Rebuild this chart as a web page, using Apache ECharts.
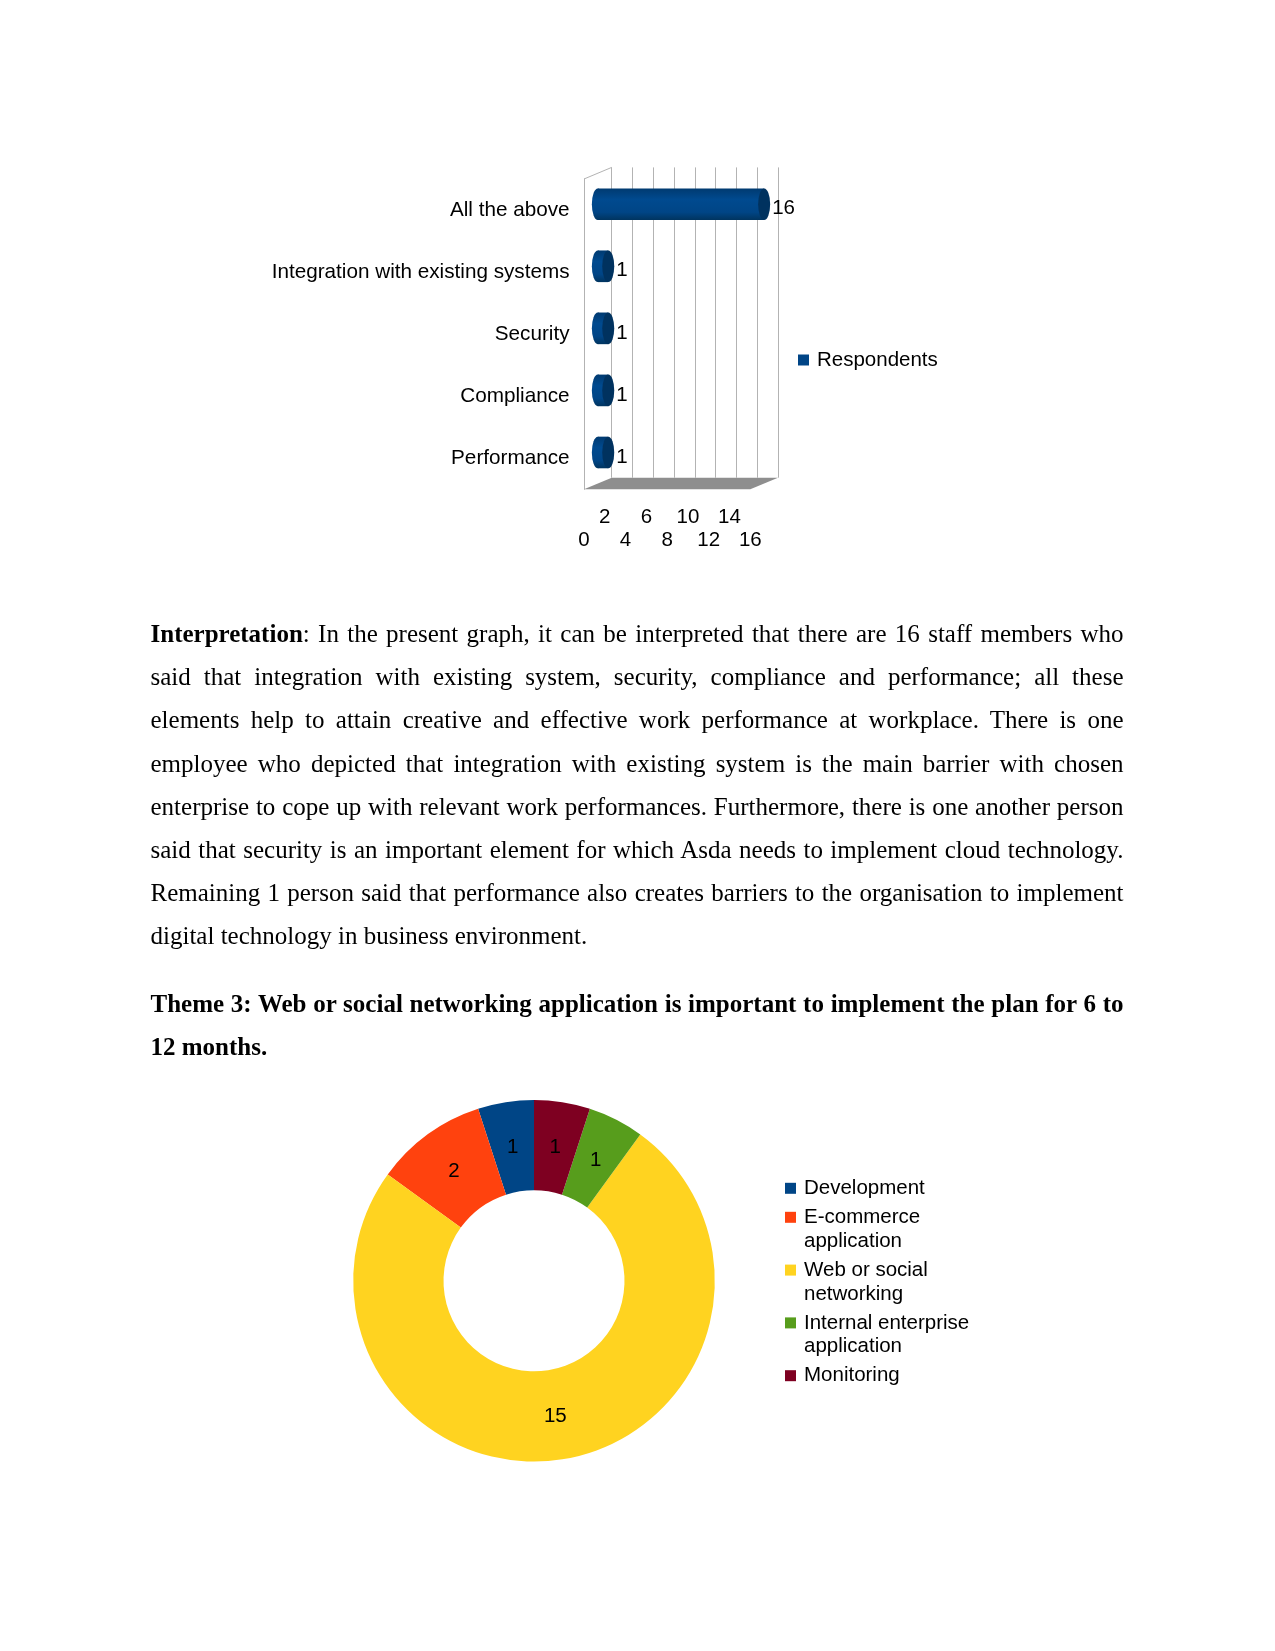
<!DOCTYPE html>
<html>
<head>
<meta charset="utf-8">
<script src="https://cdn.jsdelivr.net/npm/echarts@6/dist/echarts.min.js"></script>
<style>
  html, body { margin: 0; padding: 0; background: #ffffff; }
  #page { position: relative; width: 1275px; height: 1651px; overflow: hidden; background: #fff; }
  #chart { position: absolute; left: 0; top: 0; width: 1275px; height: 1651px; }
  .para { position: absolute; left: 150.5px; width: 973px; font-family: "Liberation Serif", "Times New Roman", serif; font-size: 25px; color: #000; z-index: 2; }
  .para div { height: 43.1px; line-height: 43.1px; text-align: justify; text-align-last: justify; }
  .para div.last { text-align: left; text-align-last: left; }
  b { font-weight: bold; }
</style>
</head>
<body>
<div id="page">
  <div id="chart"></div>
  <div class="para" style="top:612.3px">
    <div><b>Interpretation</b>: In the present graph, it can be interpreted that there are 16 staff members who</div>
    <div>said that integration with existing system, security, compliance and performance; all these</div>
    <div>elements help to attain creative and effective work performance at workplace. There is one</div>
    <div>employee who depicted that integration with existing system is the main barrier with chosen</div>
    <div>enterprise to cope up with relevant work performances. Furthermore, there is one another person</div>
    <div>said that security is an important element for which Asda needs to implement cloud technology.</div>
    <div>Remaining 1 person said that performance also creates barriers to the organisation to implement</div>
    <div class="last">digital technology in business environment.</div>
  </div>
  <div class="para" style="top:981.7px; font-weight:bold">
    <div>Theme 3: Web or social networking application is important to implement the plan for 6 to</div>
    <div class="last">12 months.</div>
  </div>
</div>
<script>
// ---------- data ----------
const categories = ['All the above', 'Integration with existing systems', 'Security', 'Compliance', 'Performance'];
const respondents = [16, 1, 1, 1, 1];
const barSeriesName = 'Respondents';
const xAxisMin = 0;
const xAxisMax = 16;
const xAxisStep = 2;

const appNames = ['Development', 'E-commerce application', 'Web or social networking', 'Internal enterprise application', 'Monitoring'];
const appCounts = [1, 2, 15, 1, 1];
const appLegendLabels = ['Development', 'E-commerce\napplication', 'Web or social\nnetworking', 'Internal enterprise\napplication', 'Monitoring'];

// ---------- styles / layout ----------
const appColors = ['#004586', '#ff420e', '#ffd320', '#579d1c', '#7e0021'];
const FONT = 'Liberation Sans';
const FS = 20.5;
const DEPTH_DX = 27.7, DEPTH_DY = -11.6;
const FRONT = { left: 584, top: 179, width: 166.3, height: 310.3 };
const LEG_LINE = 23.8;
const TICK_ROW = 22.3;
const PIE_CENTER = [534, 1280.8];
const PIE_RADIUS = [90.5, 180.8];

const chart = echarts.init(document.getElementById('chart'), null, { renderer: 'canvas' });

const bodyGrad = new echarts.graphic.LinearGradient(0, 0, 0, 1, [
  { offset: 0, color: '#003a70' },
  { offset: 0.35, color: '#004a8f' },
  { offset: 0.75, color: '#004586' },
  { offset: 1, color: '#00345f' }
]);
const capColor = '#00325f';

function renderFloor(params, api) {
  const cs = params.coordSys;
  const bx = cs.x, by = cs.y + cs.height, rx = cs.x + cs.width;
  return {
    type: 'group',
    children: [
      { type: 'polygon', shape: { points: [[bx, by], [rx, by], [rx + DEPTH_DX, by + DEPTH_DY], [bx + DEPTH_DX, by + DEPTH_DY]] },
        style: { fill: '#8e8e8e' } },
      { type: 'line', shape: { x1: bx, y1: cs.y, x2: bx + DEPTH_DX, y2: cs.y + DEPTH_DY },
        style: { stroke: '#b3b3b3', lineWidth: 1 } }
    ]
  };
}

function renderBar(params, api) {
  const val = api.value(0);
  const cat = api.value(1);
  const p0 = api.coord([0, cat]);
  const p1 = api.coord([val, cat]);
  const band = api.size([0, 1])[1];
  const ry = band * 0.255;
  const rxx = 6;
  const cy = p0[1];
  return {
    type: 'group',
    children: [
      { type: 'circle', x: p0[0], y: cy, scaleX: rxx / ry, shape: { cx: 0, cy: 0, r: ry }, style: { fill: bodyGrad } },
      { type: 'rect', shape: { x: p0[0], y: cy - ry, width: p1[0] - p0[0], height: 2 * ry }, style: { fill: bodyGrad } },
      { type: 'circle', x: p1[0], y: cy, scaleX: rxx / ry, shape: { cx: 0, cy: 0, r: ry }, style: { fill: capColor } },
      { type: 'text', x: p1[0] + rxx + 2, y: cy + 4.5,
        style: { text: String(val), fill: '#000', fontSize: FS, fontFamily: FONT, align: 'left', verticalAlign: 'middle' } }
    ]
  };
}

// legend text: a blank line above (and below for single-line items after the first)
// keeps each square level with the first line of its label
function legendText(name) {
  const i = appNames.indexOf(name);
  const label = appLegendLabels[i];
  const lines = label.split('\n').length;
  if (i === 0) return label;
  if (lines === 2) return '\n' + label;
  return '\n' + label + '\n';
}

// nudge the library-placed inside labels slightly toward the ring centre line
function pieLabelLayout(params) {
  const r = params.labelRect;
  const lx = r.x + r.width / 2, ly = r.y + r.height / 2;
  const vx = lx - PIE_CENTER[0], vy = ly - PIE_CENTER[1];
  const d = Math.hypot(vx, vy) || 1;
  return { dx: -vx / d * 2.6, dy: -vy / d * 2.6 + 1.0 };
}

const valueAxisBase = { type: 'value', min: xAxisMin, max: xAxisMax, interval: xAxisStep };

function tickRowAxis(upperRow) {
  return Object.assign({}, valueAxisBase, {
    gridIndex: 0, position: 'bottom', offset: 0,
    axisLine: { show: false }, axisTick: { show: false }, splitLine: { show: false },
    axisLabel: {
      show: true, showMinLabel: true, showMaxLabel: true, hideOverlap: false,
      margin: upperRow ? 17.25 : 17.25 + TICK_ROW, fontSize: FS, lineHeight: TICK_ROW, color: '#000', fontFamily: FONT,
      formatter: function (v) {
        const lower = (v / xAxisStep) % 2 === 0;
        return lower === !upperRow ? String(v) : '';
      }
    }
  });
}

const option = {
  animation: false,
  backgroundColor: '#ffffff',
  textStyle: { fontFamily: FONT, color: '#000' },
  grid: [
    { left: FRONT.left, top: FRONT.top, width: FRONT.width, height: FRONT.height, containLabel: false },
    { left: FRONT.left + DEPTH_DX, top: FRONT.top + DEPTH_DY, width: FRONT.width, height: FRONT.height, containLabel: false },
    { left: FRONT.left + DEPTH_DX / 2, top: FRONT.top + DEPTH_DY / 2, width: FRONT.width, height: FRONT.height, containLabel: false }
  ],
  xAxis: [
    tickRowAxis(true),
    Object.assign({}, valueAxisBase, {
      gridIndex: 1,
      axisLine: { show: false }, axisTick: { show: false }, axisLabel: { show: false },
      splitLine: { show: true, lineStyle: { color: '#b3b3b3', width: 1 } }
    }),
    Object.assign({}, valueAxisBase, {
      gridIndex: 2, show: false, splitLine: { show: false }
    }),
    tickRowAxis(false)
  ],
  yAxis: [
    { gridIndex: 0, type: 'category', data: categories, inverse: true,
      axisLine: { show: true, onZero: false, lineStyle: { color: '#b3b3b3', width: 1 } },
      axisTick: { show: false }, splitLine: { show: false },
      axisLabel: { margin: 14.5, fontSize: 20.7, color: '#000', fontFamily: FONT, padding: [2, 0, 0, 0] } },
    { gridIndex: 1, type: 'category', data: categories, inverse: true, show: false },
    { gridIndex: 2, type: 'category', data: categories, inverse: true, show: false }
  ],
  legend: [
    {
      id: 'barLegend', orient: 'vertical', left: 798, top: 347, padding: 0,
      itemWidth: 11, itemHeight: 11, selectedMode: false,
      data: [{ name: barSeriesName, icon: 'rect', itemStyle: { color: '#004586' } }],
      textStyle: { fontSize: FS, color: '#000', fontFamily: FONT, lineHeight: 24, padding: [2, 0, 0, 3], backgroundColor: 'rgba(0,0,0,0)' }
    },
    {
      id: 'pieLegend', orient: 'vertical', left: 785, top: 1188.3 - LEG_LINE / 2, padding: 0,
      itemWidth: 11, itemHeight: 11, itemGap: -LEG_LINE + 5.2, selectedMode: false,
      formatter: legendText,
      data: appNames.map(function (n, i) {
        return { name: n, icon: 'rect', itemStyle: { color: appColors[i] } };
      }),
      textStyle: { fontSize: FS, color: '#000', fontFamily: FONT, lineHeight: LEG_LINE, padding: [0, 0, 0, 3], backgroundColor: 'rgba(0,0,0,0)' }
    }
  ],
  series: [
    {
      type: 'custom', name: 'wall', xAxisIndex: 0, yAxisIndex: 0, silent: true, z: 1,
      data: [[0, 0]], renderItem: renderFloor
    },
    {
      type: 'custom', name: barSeriesName, xAxisIndex: 2, yAxisIndex: 2, z: 3, silent: true,
      itemStyle: { color: '#004586' },
      encode: { x: 0, y: 1 },
      data: respondents.map(function (v, i) { return [v, i]; }),
      renderItem: renderBar
    },
    {
      type: 'pie', name: 'Applications', center: PIE_CENTER, radius: PIE_RADIUS,
      startAngle: 90, clockwise: false, avoidLabelOverlap: false, silent: true,
      emphasis: { disabled: true },
      label: { show: true, position: 'inside', formatter: '{c}', fontSize: FS, color: '#000', fontFamily: FONT, textBorderWidth: 0 },
      labelLine: { show: false },
      labelLayout: pieLabelLayout,
      itemStyle: { borderWidth: 0 },
      data: appNames.map(function (n, i) { return { name: n, value: appCounts[i], itemStyle: { color: appColors[i] } }; })
    }
  ]
};

chart.setOption(option);
</script>
</body>
</html>
